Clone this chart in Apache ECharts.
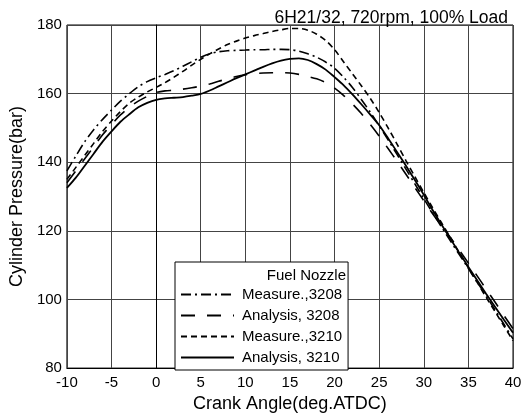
<!DOCTYPE html>
<html>
<head>
<meta charset="utf-8">
<script src="https://cdn.jsdelivr.net/npm/echarts@6/dist/echarts.min.js"></script>
<style>
  html, body { margin: 0; padding: 0; background: #fff; }
  #chart { width: 529px; height: 418px; }
</style>
</head>
<body>
<div id="chart"></div>
<script>
// crank angle (deg. ATDC)
var angles = [-10, -9, -8, -7, -6, -5, -4, -3, -2, -1, 0, 1, 2, 3, 4, 5, 6, 7, 8, 9,
    10, 11, 12, 13, 14, 15, 16, 17, 18, 19, 20, 21, 22, 23, 24, 25, 26, 27, 28, 29,
    30, 31, 32, 33, 34, 35, 36, 37, 38, 39, 40];

// cylinder pressure (bar)
var measure3208 = [137.5, 141.8, 146, 149.5, 152.5, 155.2, 157.8, 160, 162, 163.5,
    164.6, 165.6, 166.7, 168, 169.3, 170.6, 171.6, 172.2, 172.5, 172.6,
    172.7, 172.8, 172.8, 172.9, 172.9, 172.8, 172.4, 171.6, 170.6, 169.2,
    167.4, 164.8, 161.8, 158.3, 154.6, 150.6, 146.5, 142.3, 138, 133.7,
    129.4, 125.2, 121.1, 117, 113, 109, 105, 101, 96.9, 92.7, 88.5];

var analysis3208 = [134, 137.5, 141, 144.5, 148, 151, 153.8, 156, 157.8, 159.2,
    160.3, 160.8, 161, 161.3, 161.7, 162.2, 162.8, 163.6, 164.3, 165,
    165.5, 165.8, 166, 166.1, 166.1, 166, 165.6, 165, 164.3, 163.2,
    161.6, 159.5, 157, 154.2, 151, 147.6, 144, 140.3, 136.5, 132.6,
    128.8, 125, 121.5, 118, 114.3, 110.6, 106.8, 103, 99.2, 95.3, 91.5];

var measure3210 = [135, 138.5, 142, 145.5, 149, 152, 154.8, 157.2, 159, 160.5,
    161.8, 163.2, 164.8, 166.5, 168.3, 170, 171.6, 173, 174.3, 175.3,
    176.2, 176.9, 177.5, 178.1, 178.6, 179, 179, 178.5, 177.3, 175.5,
    172.8, 169.3, 165.8, 162.3, 158.6, 154.5, 150, 145.3, 140.5, 135.8,
    131.2, 126.7, 122.3, 118, 113.6, 109.2, 104.9, 100.6, 96.4, 92.2, 88];

var analysis3210 = [132.5, 135.5, 139, 142.5, 146, 149, 151.8, 154, 156, 157.3,
    158.2, 158.6, 158.8, 159, 159.4, 159.9, 160.9, 162.1, 163.3, 164.5,
    165.6, 166.7, 167.8, 168.8, 169.6, 170.1, 170.3, 169.8, 168.6, 167,
    164.8, 162.5, 159.8, 156.9, 153.9, 150.8, 147, 143, 139, 134.8,
    130.5, 126, 121.8, 117.6, 113.5, 109.5, 105.5, 101.6, 97.8, 94, 90.3];

var seriesNames = ['Measure.,3208', 'Analysis, 3208', 'Measure.,3210', 'Analysis, 3210'];

var font = "'Liberation Sans', Arial, sans-serif";

function pairs(vals) {
    return angles.map(function (a, i) { return [a, vals[i]]; });
}

function makeLine(name, vals, dash, width) {
    return {
        name: name,
        type: 'line',
        data: pairs(vals),
        showSymbol: false,
        symbol: 'none',
        smooth: 0.3,
        lineStyle: { color: '#000', width: width, type: dash },
        itemStyle: { color: '#000' }
    };
}

var myChart = echarts.init(document.getElementById('chart'));
var option;

option = {
    animation: false,
    backgroundColor: '#fff',
    textStyle: { fontFamily: font },
    title: {
        text: '6H21/32, 720rpm, 100% Load',
        right: 16,
        top: 4,
        textStyle: { fontFamily: font, fontSize: 17.5, fontWeight: 'normal', color: '#000' }
    },
    grid: {
        left: 66, right: 16, top: 25, bottom: 45,
        show: true,
        borderColor: '#000',
        borderWidth: 1
    },
    xAxis: {
        type: 'value',
        min: -10, max: 40, interval: 5,
        name: 'Crank Angle(deg.ATDC)',
        nameLocation: 'middle',
        nameGap: 24,
        nameTextStyle: { fontFamily: font, fontSize: 18, color: '#000' },
        axisLine: { show: true, lineStyle: { color: '#000' } },
        axisTick: { show: false },
        axisLabel: { fontFamily: font, fontSize: 15, color: '#000', margin: 7 },
        splitLine: { show: true, lineStyle: { color: '#444', width: 1 } }
    },
    yAxis: {
        type: 'value',
        min: 80, max: 180, interval: 20,
        name: 'Cylinder Pressure(bar)',
        nameLocation: 'middle',
        nameGap: 36,
        nameTextStyle: { fontFamily: font, fontSize: 18, color: '#000' },
        axisLine: { show: true, lineStyle: { color: '#000' } },
        axisTick: { show: false },
        axisLabel: { fontFamily: font, fontSize: 15, color: '#000', margin: 5 },
        splitLine: { show: true, lineStyle: { color: '#444', width: 1 } }
    },
    legend: {
        orient: 'vertical',
        left: 175,
        top: 262,
        padding: [25, 6, 5, 5],
        itemWidth: 53,
        itemHeight: 10,
        itemGap: 6,
        backgroundColor: '#fff',
        borderColor: '#000',
        borderWidth: 1,
        borderRadius: 0,
        data: seriesNames,
        itemStyle: { opacity: 0 },
        textStyle: { fontFamily: font, fontSize: 15, color: '#000', padding: [0, 0, 0, 3] }
    },
    graphic: [{
        type: 'text',
        z: 100,
        right: 529 - 346,
        top: 268,
        style: { text: 'Fuel Nozzle', font: '15px ' + font, fill: '#000' }
    }],
    series: [
        makeLine(seriesNames[0], measure3208, [10, 4, 2, 4], 1.6),
        makeLine(seriesNames[1], analysis3208, [14, 12], 1.6),
        makeLine(seriesNames[2], measure3210, [6, 4], 1.6),
        makeLine(seriesNames[3], analysis3210, 'solid', 1.8)
    ]
};

option && myChart.setOption(option);
</script>
</body>
</html>
